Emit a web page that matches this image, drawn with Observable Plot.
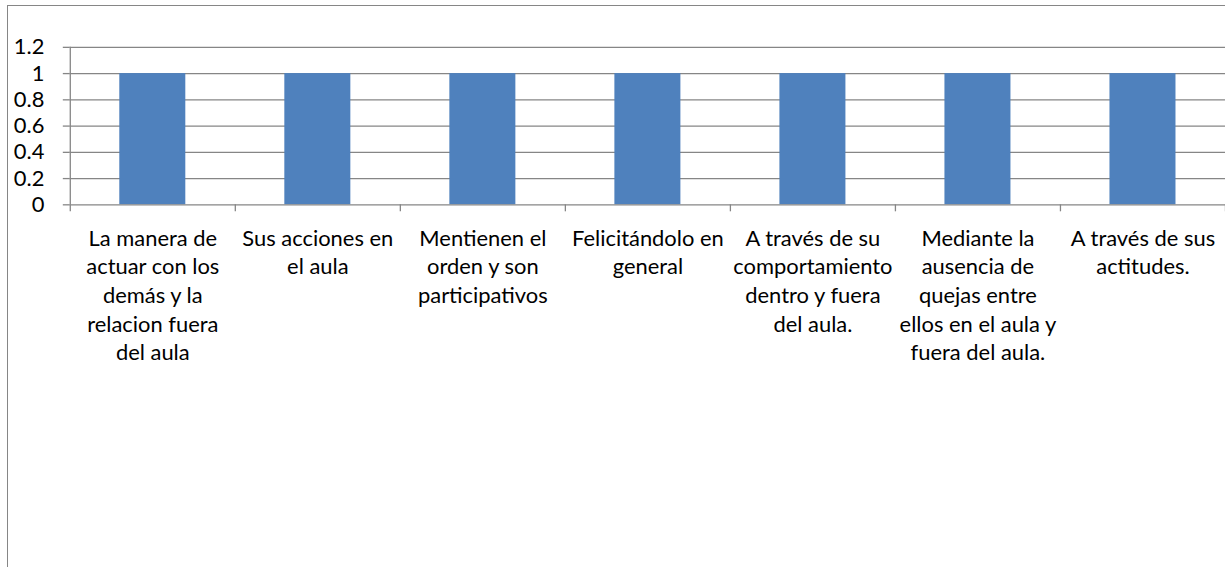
<!DOCTYPE html>
<html><head><meta charset="utf-8">
<script src="https://cdn.jsdelivr.net/npm/d3@7"></script>
<script src="https://cdn.jsdelivr.net/npm/@observablehq/plot@0.6"></script>
<style>
html,body{margin:0;padding:0;background:#fff;overflow:hidden;width:1225px;height:567px}
#frame{position:absolute;left:7px;top:5px;width:1260px;height:620px;border:1.5px solid #868686;box-sizing:border-box}
#chart{position:absolute;left:0;top:0}
</style></head><body><div id="frame"></div><div id="chart"></div>
<script>
const categories = [
  "La manera de actuar con los demás y la relacion fuera del aula",
  "Sus acciones en el aula",
  "Mentienen el orden y son participativos",
  "Felicitándolo en general",
  "A través de su comportamiento dentro y fuera del aula.",
  "Mediante la ausencia de quejas entre ellos en el aula y fuera del aula.",
  "A través de sus actitudes."
];
const values = [1, 1, 1, 1, 1, 1, 1];
const tickLabels = [
  "La manera de\nactuar con los\ndemás y la\nrelacion fuera\ndel aula",
  "Sus acciones en\nel aula",
  "Mentienen el\norden y son\nparticipativos",
  "Felicitándolo en\ngeneral",
  "A través de su\ncomportamiento\ndentro y fuera\ndel aula.",
  "Mediante la\nausencia de\nquejas entre\nellos en el aula y\nfuera del aula.",
  "A través de sus\nactitudes."
];
const yTicks = [0, 0.2, 0.4, 0.6, 0.8, 1, 1.2];

const data = categories.map((c, i) => ({category: c, index: i, value: values[i], label: tickLabels[i]}));
const boundaries = d3.range(categories.length + 1);
const grey = "#868686";

const chart = Plot.plot({
  width: 1229,
  height: 567,
  marginLeft: 70,
  marginRight: 0,
  marginTop: 47,
  marginBottom: 362,
  style: {fontFamily: "Lato, 'Open Sans', sans-serif", fontSize: "22px", color: "#000", background: "transparent", overflow: "visible"},
  x: {type: "linear", domain: [0, categories.length], axis: null},
  y: {domain: [0, 1.2], axis: null},
  marks: [
    Plot.ruleY(yTicks.filter(d => d > 0), {stroke: grey, strokeWidth: 1.3, strokeOpacity: 1}),
    Plot.rectY(data, {x1: d => d.index + 0.3, x2: d => d.index + 0.7, y1: 0, y2: "value", fill: "#4F81BD"}),
    Plot.ruleY([0], {stroke: grey, strokeWidth: 1.3}),
    Plot.ruleX([0], {y1: 0, y2: 1.2, stroke: grey, strokeWidth: 1.3}),
    Plot.axisY({ticks: yTicks, tickSize: 7, tickPadding: 19, tickFormat: d3.format("~g"), fontSize: 22, stroke: grey, strokeWidth: 1.3, strokeOpacity: 1, fill: "#000", label: null}),
    Plot.axisX({ticks: boundaries, tickSize: 7, tickFormat: () => "", stroke: grey, strokeWidth: 1.3, strokeOpacity: 1, label: null}),
    Plot.text(data, {x: d => d.index + 0.5, y: 0, text: "label", lineAnchor: "top", dy: 21, lineHeight: 1.3, fontSize: 22, fill: "#000", textAnchor: "middle"})
  ]
});
document.getElementById("chart").appendChild(chart);
</script>
</body></html>
